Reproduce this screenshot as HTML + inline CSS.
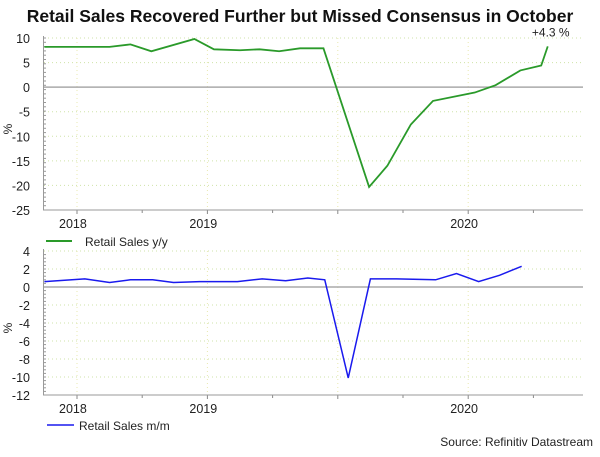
<!DOCTYPE html>
<html><head><meta charset="utf-8"><style>
body{margin:0;background:#fff;width:600px;height:452px;overflow:hidden;font-family:"Liberation Sans",sans-serif}
</style></head><body>
<svg id="c" width="600" height="452" font-family="Liberation Sans, sans-serif">
<text x="300" y="22" text-anchor="middle" font-size="17.5" font-weight="bold" fill="#111">Retail Sales Recovered Further but Missed Consensus in October</text>
<g id="top"></g><g id="bot"></g>
<line x1="46" y1="241" x2="72" y2="241" stroke="#2a9a2a" stroke-width="2"/>
<text x="85" y="246" font-size="12" fill="#222">Retail Sales y/y</text>
<line x1="47" y1="425" x2="74" y2="425" stroke="#1a1aee" stroke-width="1.5"/>
<text x="79" y="430" font-size="12" fill="#222">Retail Sales m/m</text>
<text x="593" y="446" text-anchor="end" font-size="12" fill="#222">Source: Refinitiv Datastream</text>
</svg>
<script>
const topX=[-0.25,0,0.25,0.41,0.57,0.9,1.05,1.25,1.4,1.55,1.71,1.89,2.24,2.38,2.56,2.73,3.05,3.21,3.4,3.56,3.61];
const topY=[8.2,8.2,8.2,8.7,7.3,9.8,7.7,7.5,7.7,7.3,7.9,7.9,-20.3,-16,-7.6,-2.8,-1.1,0.4,3.4,4.4,8.3];
const botX=[-0.25,0.06,0.25,0.41,0.58,0.74,0.94,1.23,1.42,1.6,1.77,1.9,2.08,2.25,2.45,2.75,2.91,3.08,3.24,3.41];
const botY=[0.6,0.9,0.5,0.8,0.8,0.5,0.6,0.6,0.9,0.7,1.0,0.8,-10.1,0.9,0.9,0.8,1.5,0.6,1.3,2.3];
const topTicks=[10,5,0,-5,-10,-15,-20,-25];
const botTicks=[4,2,0,-2,-4,-6,-8,-10,-12];
const xMajor=[0,1,2,3];
const xLabels=["2018","2019","","2020"];
const NS="http://www.w3.org/2000/svg";
const sx=v=>77+v*130.4;
function mk(p,t,a){const e=document.createElementNS(NS,t);for(const k in a)e.setAttribute(k,a[k]);p.appendChild(e);return e;}
function panel(g,y0,y1,vmax,vmin,ticks,xs,ys,color,sw,name){
  const sy=v=>y0+(vmax-v)/(vmax-vmin)*(y1-y0);
  ticks.forEach(t=>{
    if(t!==0&&t!==vmin){const l=mk(g,'line',{x1:44,x2:583,y1:sy(t),y2:sy(t),stroke:'#cfe3a8','stroke-dasharray':'1,3'});
    
    }
    const tx=mk(g,'text',{x:30,y:sy(t)+5,'text-anchor':'end','font-size':12.5,fill:'#222'});tx.textContent=t;
    
    
  });
  for(let v=vmin;v<=vmax;v+=(vmax-vmin)/40){mk(g,'line',{x1:43,x2:46,y1:sy(v),y2:sy(v),stroke:'#999'});}
  xMajor.forEach((m,i)=>{
    mk(g,'line',{x1:sx(m),x2:sx(m),y1:y0,y2:y1,stroke:'#e8e8b0','stroke-dasharray':'1,3'});
    mk(g,'line',{x1:sx(m),x2:sx(m),y1:y1,y2:y1+4,stroke:'#888'});
    mk(g,'line',{x1:sx(m+0.5),x2:sx(m+0.5),y1:y1,y2:y1+3,stroke:'#888'});
    if(xLabels[i]){const tx=mk(g,'text',{x:sx(m)-18,y:y1+18,'font-size':12.5,fill:'#222'});tx.textContent=xLabels[i];
    
    }
  });
  const z=mk(g,'line',{x1:44,x2:583,y1:sy(0),y2:sy(0),stroke:'#aaa','stroke-width':1.5});
  
  
  mk(g,'line',{x1:43.5,x2:43.5,y1:y0-2,y2:y1,stroke:'#999'});
  const ax=mk(g,'line',{x1:43,x2:583,y1:y1,y2:y1,stroke:'#999'});
  
  
  const yt=mk(g,'text',{x:0,y:0,'font-size':12,fill:'#222',transform:`translate(12,${(y0+y1)/2+5}) rotate(-90)`,'text-anchor':'middle'});yt.textContent='%';
  
  
  const pl=mk(g,'polyline',{points:xs.map((x,i)=>sx(x)+','+sy(ys[i])).join(' '),fill:'none',stroke:color,'stroke-width':sw});
  
  
  return sy;
}
const syT=panel(document.getElementById('top'),38,210,10,-25,topTicks,topX,topY,'#2a9a2a',1.8,'yy');
panel(document.getElementById('bot'),251,395,4,-12,botTicks,botX,botY,'#1a1aee',1.5,'mm');
const lb=mk(document.getElementById('top'),'text',{x:sx(topX[topX.length-1])+3,y:syT(topY[topY.length-1])-10,'text-anchor':'middle','font-size':12,fill:'#222'});
lb.textContent='+'+topY[topY.length-1-0]>0?'+4.3 %':'';
lb.textContent='+4.3 %';


</script>
</body></html>
